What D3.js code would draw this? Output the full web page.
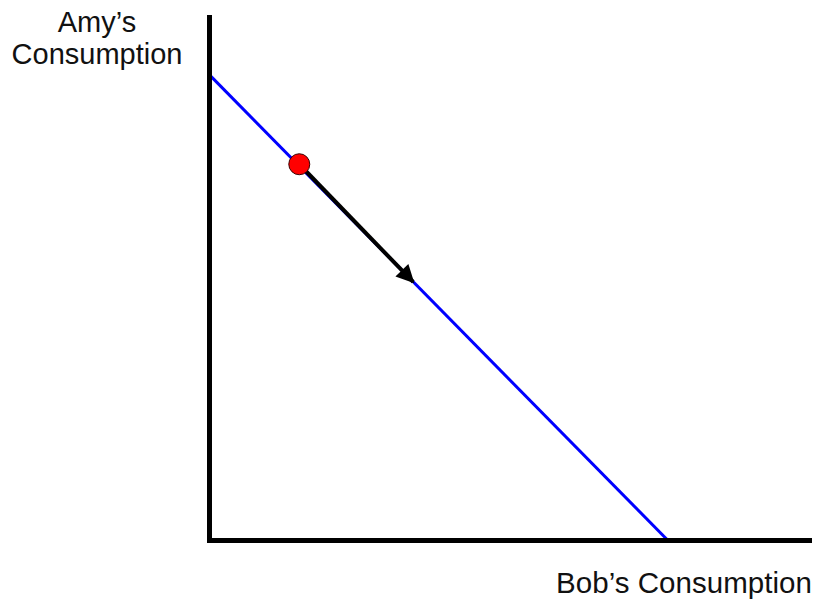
<!DOCTYPE html>
<html><head><meta charset="utf-8">
<script src="https://cdn.jsdelivr.net/npm/d3@7"></script>
<style>body{margin:0;background:#fff}svg{display:block}text{font-family:"Liberation Sans",Arial,sans-serif;fill:#111}</style>
</head><body>
<script>
const xDomain = [0, 100];
const yDomain = [0, 100];
const budgetLine = [{x: 0, y: 88.6}, {x: 76.1, y: 0}];
const startPoint = {x: 14.9, y: 71.6};
const arrowEnd = {x: 33.8, y: 49.2};
const yLabel = ["Amy\u2019s", "Consumption"];
const xLabel = "Bob\u2019s Consumption";

const W = 820, H = 601;
const svg = d3.select("body").append("svg").attr("width", W).attr("height", H);
const x = d3.scaleLinear().domain(xDomain).range([209.5, 812]);
const y = d3.scaleLinear().domain(yDomain).range([540.5, 15]);

svg.append("defs").append("marker")
  .attr("id", "ah").attr("viewBox", "0 0 10 10").attr("refX", 9).attr("refY", 5)
  .attr("markerWidth", 5.5).attr("markerHeight", 4.5).attr("markerUnits", "strokeWidth")
  .attr("orient", "auto")
  .append("path").attr("d", "M0,0 L10,5 L0,10 Z").attr("fill", "#000");

const line = d3.line().x(d => x(d.x)).y(d => y(d.y));

// budget line
svg.append("path").datum(budgetLine).attr("d", line)
  .attr("fill", "none").attr("stroke", "#0000ff").attr("stroke-width", 3);

// axes
svg.append("line").attr("x1", x(0)).attr("x2", x(0)).attr("y1", y(yDomain[1])).attr("y2", y(0) + 2.5)
  .attr("stroke", "#000").attr("stroke-width", 5);
svg.append("line").attr("x1", x(0) - 2.5).attr("x2", x(xDomain[1])).attr("y1", y(0)).attr("y2", y(0))
  .attr("stroke", "#000").attr("stroke-width", 5);

// arrow
svg.append("path").datum([startPoint, arrowEnd]).attr("d", line)
  .attr("fill", "none").attr("stroke", "#000").attr("stroke-width", 4)
  .attr("marker-end", "url(#ah)");

// point
svg.append("circle").attr("cx", x(startPoint.x)).attr("cy", y(startPoint.y)).attr("r", 10.5)
  .attr("fill", "#ff0000").attr("stroke", "#3a0000").attr("stroke-width", 1);

// labels
const yl = svg.append("text").attr("text-anchor", "middle").attr("font-size", 29);
yLabel.forEach((t, i) => yl.append("tspan").attr("x", 97).attr("y", 32 + i * 32).text(t));
svg.append("text").attr("x", 812).attr("y", 593).attr("text-anchor", "end")
  .attr("font-size", 29.5).attr("textLength", 256).text(xLabel);
</script>
</body></html>
